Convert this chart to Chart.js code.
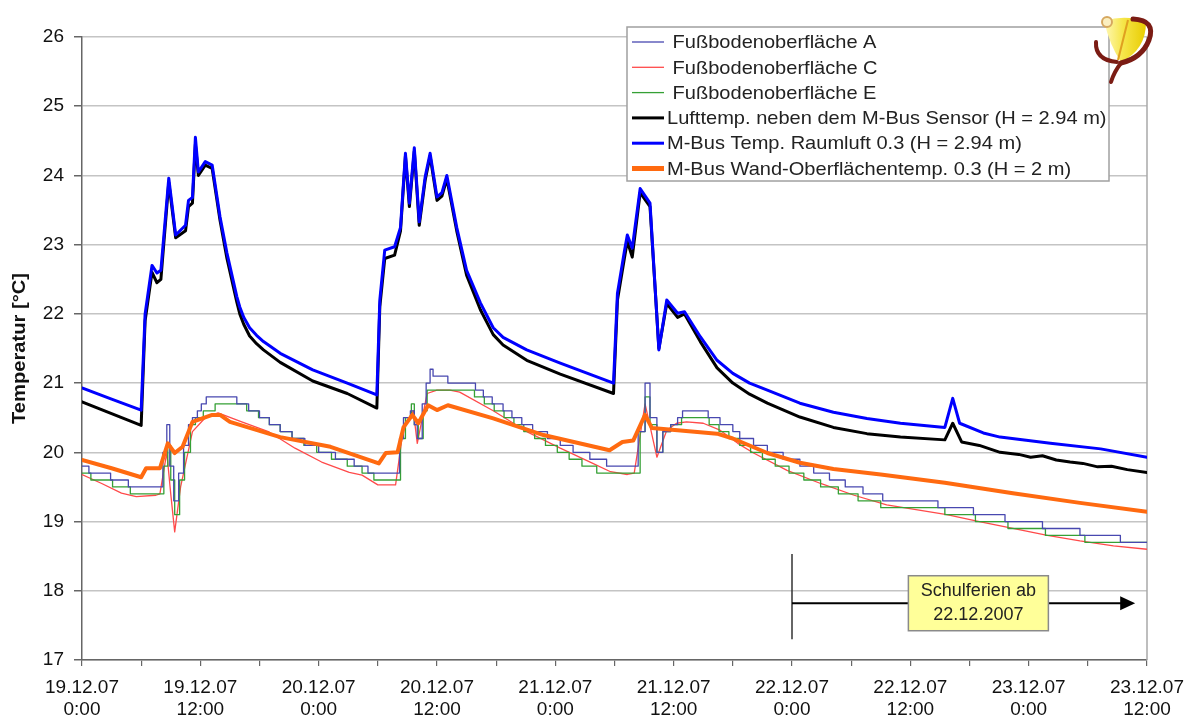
<!DOCTYPE html>
<html>
<head>
<meta charset="utf-8">
<script src="https://cdn.jsdelivr.net/npm/chart.js@4.4.1/dist/chart.umd.min.js"></script>
<style>
html, body { margin: 0; padding: 0; background: #fff; }
canvas { display: block; }
</style>
</head>
<body>
<canvas id="chart" width="1186" height="724"></canvas>
<script>
// hours since 19.12.07 0:00 -> temperature in °C
// floor sensors log in 0.1 K steps: [hour where the value changes, new value]
var floorA = [[0,19.8],[0.7,19.7],[2.9,19.6],[4.7,19.5],[7.9,19.5],[8.2,20.0],[8.6,20.4],[8.9,19.8],[9.3,19.3],[9.8,19.7],[10.3,20.1],[10.8,20.4],[11.2,20.5],[11.7,20.6],[12.1,20.7],[12.6,20.8],[15.7,20.7],[16.9,20.6],[18.0,20.5],[19.0,20.4],[20.1,20.3],[21.3,20.2],[22.6,20.1],[24.0,20.0],[25.7,19.9],[27.6,19.8],[29.0,19.7],
  [31.8,19.7],[32.2,20.2],[32.6,20.5],[33.3,20.6],[33.7,20.4],[34.0,20.2],[34.5,20.7],[34.9,21.0],[35.3,21.2],[35.6,21.1],[37.1,21.0],[39.9,20.9],[40.7,20.8],[41.6,20.7],[42.7,20.6],[43.6,20.5],[44.6,20.4],[45.7,20.3],[47.2,20.2],[48.5,20.1],[49.8,20.0],[51.5,19.9],[53.2,19.8],
  [55.8,19.8],[56.4,20.3],[57.1,21.0],[57.6,20.5],[58.3,20.0],[58.9,20.3],[59.7,20.4],[60.4,20.5],[60.9,20.6],[63.5,20.5],[64.7,20.4],[66.0,20.3],[66.7,20.2],[68.1,20.1],[69.5,20.0],[71.1,19.9],[72.8,19.8],[74.2,19.7],[75.8,19.6],[77.4,19.5],[79.2,19.4],[81.2,19.3],[86.8,19.2],[90.4,19.1],[93.6,19.0],[97.4,18.9],[101.2,18.8],[105.3,18.7],[108,18.7]];

var floorC = [[0,19.68],[2.0,19.55],[4.0,19.41],[5.5,19.36],[7.5,19.38],[7.9,19.4],[8.6,20.0],[9.0,19.4],[9.4,18.85],[10.0,19.5],[11.2,20.3],[12.5,20.5],[13.8,20.57],[16.2,20.44],[18.9,20.3],[21.6,20.06],[24.3,19.86],[27.1,19.71],[28.4,19.67],[30.0,19.53],[31.8,19.53],
  [32.6,20.36],[33.6,20.6],[34.0,20.13],[35.0,20.85],[36.0,20.9],[37.3,20.9],[38.3,20.87],[41.7,20.6],[45.1,20.3],[48.5,20.06],[51.8,19.84],[53.6,19.72],[55.3,19.68],[56.0,19.7],
  [57.1,20.7],[58.3,19.93],[59.3,20.32],[60.3,20.42],[61.3,20.44],[63.0,20.42],[64.7,20.32],[66.5,20.13],[68.1,19.99],[71.5,19.74],[74.9,19.55],[78.3,19.38],[81.6,19.24],[87.7,19.1],[91.0,19.0],[94.4,18.9],[97.9,18.8],[101.2,18.72],[104.6,18.65],[108,18.6]];

var floorE = [[0,19.7],[0.9,19.6],[3.1,19.5],[4.9,19.4],[7.9,19.4],[8.3,19.8],[8.7,20.1],[9.0,19.6],[9.4,19.1],[9.9,19.6],[10.4,20.0],[11.0,20.4],[11.5,20.5],[12.3,20.6],[13.5,20.7],[16.7,20.6],[17.9,20.5],[19.0,20.4],[20.1,20.3],[21.3,20.2],[22.5,20.1],[23.8,20.0],[25.3,19.9],[26.9,19.8],[28.4,19.7],[29.6,19.6],
  [31.8,19.6],[32.3,20.2],[32.8,20.5],[33.4,20.7],[33.7,20.4],[34.1,20.2],[34.6,20.6],[35.0,20.9],[39.8,20.8],[40.8,20.7],[41.8,20.6],[42.8,20.5],[43.8,20.4],[44.8,20.3],[45.9,20.2],[47.0,20.1],[48.2,20.0],[49.4,19.9],[50.7,19.8],[52.2,19.7],
  [56.0,19.7],[56.6,20.3],[57.1,20.8],[57.6,20.4],[58.3,20.0],[58.9,20.3],[59.7,20.4],[60.8,20.5],[63.6,20.4],[64.6,20.3],[65.6,20.2],[66.7,20.1],[67.8,20.0],[69.0,19.9],[70.3,19.8],[71.7,19.7],[73.2,19.6],[74.9,19.5],[76.7,19.4],[78.7,19.3],[81.0,19.2],[87.5,19.1],[90.6,19.0],[93.9,18.9],[97.7,18.8],[101.7,18.7],[108,18.7]];

var airNearSensor = [[0,20.73],[3,20.56],[6.0,20.39],[6.4,21.9],[7.1,22.6],[7.6,22.45],[8.0,22.5],[8.8,23.9],[9.5,23.1],[10.5,23.2],[10.8,23.55],[11.2,23.6],[11.5,24.45],[11.8,24.0],[12.5,24.15],[13.2,24.1],[14.0,23.35],[14.7,22.8],[15.7,22.17],[16.0,22.0],[16.4,21.85],[17.0,21.68],[17.7,21.57],[18.4,21.48],[20.1,21.3],[23.4,21.03],[26.9,20.85],[29.9,20.64],
  [30.2,22.1],[30.7,22.8],[31.7,22.85],[32.3,23.2],[32.8,24.28],[33.2,23.55],[33.7,24.35],[34.2,23.28],[34.8,23.93],[35.3,24.28],[36.0,23.64],[36.5,23.7],[37.0,23.95],[38.0,23.2],[39.0,22.56],[40.4,22.06],[41.7,21.7],[42.7,21.55],[45.1,21.33],[48.5,21.13],[53.9,20.85],
  [54.3,22.2],[55.0,22.8],[55.3,23.05],[55.8,22.82],[56.6,23.75],[57.6,23.55],[58.5,21.5],[59.3,22.15],[60.4,21.95],[61.1,22.0],[62.7,21.6],[64.4,21.22],[66.0,21.0],[67.7,20.84],[69.5,20.71],[72.8,20.51],[76.2,20.36],[79.6,20.27],[83.0,20.22],[87.5,20.18],[88.3,20.42],[89.2,20.15],[91.0,20.1],[93.1,20.0],[95.0,19.97],[96.2,19.93],[97.4,19.95],[98.8,19.89],[100.2,19.86],[101.5,19.84],[103.0,19.79],[104.4,19.8],[106.0,19.75],[108,19.71]];

var busRoomAir = [[0,20.93],[3,20.77],[6.0,20.61],[6.4,22.0],[7.1,22.7],[7.6,22.59],[8.0,22.63],[8.8,23.96],[9.5,23.14],[10.5,23.28],[10.8,23.64],[11.2,23.68],[11.5,24.55],[11.8,24.05],[12.5,24.2],[13.2,24.15],[14.0,23.4],[14.7,22.88],[15.7,22.25],[16.0,22.1],[16.4,21.95],[17.0,21.8],[17.7,21.69],[18.4,21.6],[20.1,21.43],[23.4,21.19],[26.9,21.0],[29.9,20.83],
  [30.2,22.2],[30.7,22.92],[31.7,22.97],[32.3,23.25],[32.8,24.32],[33.2,23.6],[33.7,24.4],[34.2,23.33],[34.8,23.98],[35.3,24.32],[36.0,23.69],[36.5,23.75],[37.0,24.0],[38.0,23.25],[39.0,22.63],[40.4,22.16],[41.7,21.8],[42.7,21.66],[45.1,21.48],[48.5,21.29],[53.9,21.0],
  [54.3,22.3],[55.0,22.9],[55.3,23.14],[55.8,22.95],[56.6,23.81],[57.6,23.6],[58.5,21.48],[59.3,22.2],[60.4,22.01],[61.1,22.03],[62.7,21.67],[64.4,21.33],[66.0,21.14],[67.7,21.0],[69.5,20.9],[72.8,20.71],[76.2,20.58],[79.6,20.49],[83.0,20.42],[87.5,20.36],[88.3,20.78],[89.0,20.42],[91.4,20.28],[93.1,20.22],[98.2,20.13],[103.3,20.05],[108,19.93]];

var busWall = [[0,19.89],[3,19.77],[6.0,19.64],[6.5,19.77],[7.9,19.77],[8.7,20.13],[9.4,19.99],[10.2,20.08],[11.2,20.44],[13.2,20.54],[14.0,20.54],[15.0,20.44],[20.1,20.22],[25.2,20.08],[30.1,19.84],
  [30.8,19.99],[32.0,20.0],[32.6,20.36],[33.5,20.54],[34.1,20.42],[35.1,20.68],[36.0,20.61],[37.1,20.68],[41.7,20.49],[46.8,20.25],[53.5,20.03],
  [54.8,20.15],[55.9,20.17],[57.1,20.54],[57.8,20.35],[60.4,20.32],[64.4,20.27],[66.0,20.2],[69.5,19.99],[72.8,19.85],[76.2,19.76],[81.0,19.68],[87.5,19.56],[94.4,19.41],[101.2,19.27],[108,19.14]];

var seriesLabels = [
  ' Fußbodenoberfläche A',
  ' Fußbodenoberfläche C',
  ' Fußbodenoberfläche E',
  'Lufttemp. neben dem M-Bus Sensor (H = 2.94 m)',
  'M-Bus Temp. Raumluft 0.3 (H = 2.94 m)',
  'M-Bus Wand-Oberflächentemp. 0.3 (H = 2 m)'
];

var tickDays = ['19.12.07','19.12.07','20.12.07','20.12.07','21.12.07','21.12.07','22.12.07','22.12.07','23.12.07','23.12.07'];
var tickTimes = ['0:00','12:00','0:00','12:00','0:00','12:00','0:00','12:00','0:00','12:00'];

var yTitle = 'Temperatur [°C]';
var holidayText = ['Schulferien ab', '22.12.2007'];

var FONT = 'Arial, "Liberation Sans", sans-serif';

function pts(arr) {
  return arr.map(function (p) { return { x: p[0], y: p[1] }; });
}

// right edge of the plot and the rotated axis title
var frame = {
  id: 'frame',
  beforeDatasetsDraw: function (chart) {
    var a = chart.chartArea, ctx = chart.ctx;
    ctx.save();
    ctx.strokeStyle = '#a8a8a8';
    ctx.lineWidth = 1.5;
    ctx.beginPath();
    ctx.moveTo(a.right, a.top);
    ctx.lineTo(a.right, a.bottom);
    ctx.stroke();

    ctx.translate(20, (a.top + a.bottom) / 2);
    ctx.rotate(-Math.PI / 2);
    ctx.scale(1.12, 1);
    ctx.font = 'bold 18px ' + FONT;
    ctx.fillStyle = '#111';
    ctx.textAlign = 'center';
    ctx.textBaseline = 'middle';
    ctx.fillText(yTitle, 0, 0);
    ctx.restore();
  }
};

// holiday marker with arrow and note
var holiday = {
  id: 'holiday',
  afterDatasetsDraw: function (chart) {
    var ctx = chart.ctx, xs = chart.scales.x, ys = chart.scales.y;
    var x0 = xs.getPixelForValue(72);
    var x1 = xs.getPixelForValue(106.8);
    var y = ys.getPixelForValue(17.82);
    ctx.save();
    ctx.strokeStyle = '#333';
    ctx.lineWidth = 1.5;
    ctx.beginPath();
    ctx.moveTo(x0, ys.getPixelForValue(18.53));
    ctx.lineTo(x0, ys.getPixelForValue(17.3));
    ctx.stroke();

    ctx.strokeStyle = '#000';
    ctx.lineWidth = 2;
    ctx.beginPath();
    ctx.moveTo(x0, y);
    ctx.lineTo(x1 - 12, y);
    ctx.stroke();
    ctx.fillStyle = '#000';
    ctx.beginPath();
    ctx.moveTo(x1, y);
    ctx.lineTo(x1 - 15, y - 7);
    ctx.lineTo(x1 - 15, y + 7);
    ctx.closePath();
    ctx.fill();

    var cx = xs.getPixelForValue(90.9);
    var w = 140, h = 55;
    ctx.fillStyle = '#ffff99';
    ctx.strokeStyle = '#8a8a8a';
    ctx.lineWidth = 1.5;
    ctx.fillRect(cx - w / 2, y - h / 2, w, h);
    ctx.strokeRect(cx - w / 2, y - h / 2, w, h);
    ctx.fillStyle = '#222';
    ctx.font = '18px ' + FONT;
    ctx.textAlign = 'center';
    ctx.textBaseline = 'middle';
    ctx.fillText(holidayText[0], cx, y - 12);
    ctx.fillText(holidayText[1], cx, y + 12);
    ctx.restore();
  }
};

// boxed legend in the upper right of the plot
var boxLegend = {
  id: 'boxLegend',
  afterDraw: function (chart) {
    var ctx = chart.ctx;
    var left = 627, top = 27, right = 1109, bottom = 181;
    ctx.save();
    ctx.fillStyle = '#fff';
    ctx.fillRect(left, top, right - left, bottom - top);
    ctx.strokeStyle = '#a0a0a0';
    ctx.lineWidth = 1.5;
    ctx.strokeRect(left, top, right - left, bottom - top);
    ctx.font = '19px ' + FONT;
    ctx.textBaseline = 'middle';
    ctx.fillStyle = '#222';
    chart.data.datasets.forEach(function (ds, i) {
      var y = 42 + i * 25.3;
      ctx.strokeStyle = ds.borderColor;
      ctx.lineWidth = ds.legendWidth;
      ctx.beginPath();
      ctx.moveTo(632, y);
      ctx.lineTo(664, y);
      ctx.stroke();
      ctx.save();
      ctx.translate(667, y);
      ctx.scale(1.055, 1);
      ctx.fillText(ds.label, 0, 1);
      ctx.restore();
    });
    ctx.restore();
  }
};

// small emblem in the top right corner
var emblem = {
  id: 'emblem',
  afterDraw: function (chart) {
    var ctx = chart.ctx;
    ctx.save();
    var g = ctx.createLinearGradient(1104, 0, 1146, 0);
    g.addColorStop(0, '#fff8b8');
    g.addColorStop(0.45, '#f6e64a');
    g.addColorStop(1, '#e8cc00');
    ctx.fillStyle = g;
    ctx.beginPath();
    ctx.moveTo(1104, 21);
    ctx.quadraticCurveTo(1126, 14, 1146, 22);
    ctx.quadraticCurveTo(1146, 50, 1121, 62);
    ctx.quadraticCurveTo(1110, 46, 1104, 21);
    ctx.fill();
    ctx.strokeStyle = '#e0a020';
    ctx.lineWidth = 2;
    ctx.beginPath();
    ctx.moveTo(1118, 60);
    ctx.lineTo(1128, 20);
    ctx.stroke();

    ctx.strokeStyle = '#7b1c14';
    ctx.lineCap = 'round';
    ctx.lineWidth = 5;
    ctx.beginPath();
    ctx.moveTo(1133, 19);
    ctx.quadraticCurveTo(1156, 20, 1149, 40);
    ctx.quadraticCurveTo(1142, 58, 1121, 63);
    ctx.stroke();
    ctx.lineWidth = 4;
    ctx.beginPath();
    ctx.moveTo(1121, 63);
    ctx.quadraticCurveTo(1114, 72, 1111, 82);
    ctx.stroke();
    ctx.beginPath();
    ctx.moveTo(1096, 42);
    ctx.quadraticCurveTo(1095, 60, 1117, 62);
    ctx.stroke();

    ctx.fillStyle = '#fbefc0';
    ctx.strokeStyle = '#d6a860';
    ctx.lineWidth = 2;
    ctx.beginPath();
    ctx.arc(1107, 22, 5, 0, Math.PI * 2);
    ctx.fill();
    ctx.stroke();
    ctx.restore();
  }
};

Chart.defaults.font.family = FONT;
Chart.defaults.color = '#111';

new Chart(document.getElementById('chart'), {
  type: 'line',
  data: {
    datasets: [
      { label: seriesLabels[0], data: pts(floorA), borderColor: '#4848b0', borderWidth: 1.3, stepped: true, order: 4, legendWidth: 1.3 },
      { label: seriesLabels[1], data: pts(floorC), borderColor: '#ff4a4a', borderWidth: 1.3, order: 6, legendWidth: 1.3 },
      { label: seriesLabels[2], data: pts(floorE), borderColor: '#35a035', borderWidth: 1.3, stepped: true, order: 5, legendWidth: 1.3 },
      { label: seriesLabels[3], data: pts(airNearSensor), borderColor: '#000000', borderWidth: 3, order: 3, legendWidth: 3 },
      { label: seriesLabels[4], data: pts(busRoomAir), borderColor: '#0000ff', borderWidth: 3, order: 2, legendWidth: 3 },
      { label: seriesLabels[5], data: pts(busWall), borderColor: '#ff6a10', borderWidth: 4, order: 1, legendWidth: 5 }
    ]
  },
  options: {
    responsive: false,
    animation: false,
    events: [],
    layout: { padding: { left: 0, top: 37, right: 39, bottom: 0 } },
    elements: {
      point: { radius: 0 },
      line: { tension: 0, borderJoinStyle: 'round', borderCapStyle: 'round' }
    },
    plugins: {
      legend: { display: false },
      tooltip: { enabled: false }
    },
    scales: {
      x: {
        type: 'linear',
        min: 0,
        max: 108,
        afterFit: function (s) { s.height = 64; s.paddingLeft = 0; s.paddingRight = 0; },
        grid: { drawOnChartArea: false, drawTicks: true, tickLength: 6, color: '#666', lineWidth: 1.2 },
        border: { color: '#666', width: 1.5 },
        ticks: {
          stepSize: 6,
          autoSkip: false,
          maxRotation: 0,
          padding: 10,
          color: '#111',
          font: { size: 19 },
          callback: function (v) {
            if (v % 12) return '';
            var i = v / 12;
            return [tickDays[i], tickTimes[i]];
          }
        }
      },
      y: {
        min: 17,
        max: 26,
        afterFit: function (s) { s.width = 82; },
        grid: { color: '#c4c4c4', lineWidth: 1.5, tickLength: 8, tickColor: '#666' },
        border: { color: '#666', width: 1.5 },
        ticks: { stepSize: 1, padding: 10, color: '#111', font: { size: 19 } }
      }
    }
  },
  plugins: [frame, holiday, boxLegend, emblem]
});
</script>
</body>
</html>
